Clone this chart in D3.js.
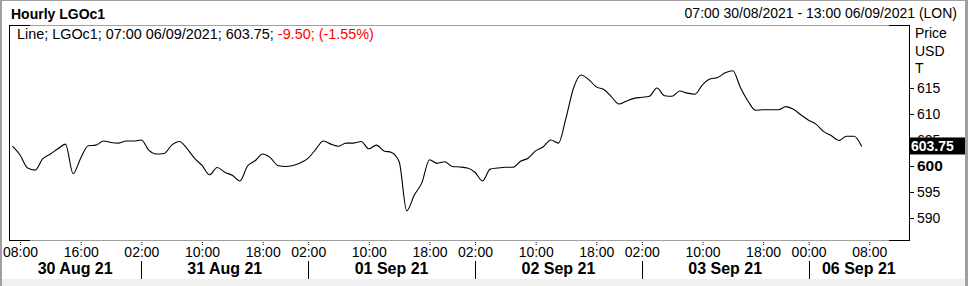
<!DOCTYPE html>
<html>
<head>
<meta charset="utf-8">
<script src="https://cdn.jsdelivr.net/npm/d3@7"></script>
<style>
    body { margin: 0; background: #fff; }
    svg { display: block; font-family: Arial, "Liberation Sans", sans-serif; }
    .axis path { display: none; }
    .axis text { fill: #000; }
</style>
</head>
<body>
<div id="chart"></div>
<script>
// Sessões de negociação (hora de Londres)
const dayLabels = ['30 Aug 21', '31 Aug 21', '01 Sep 21', '02 Sep 21', '03 Sep 21', '06 Sep 21'];
const sessionHours = [
    [7, 8, 9, 10, 11, 12, 13, 14, 15, 16, 17, 18, 19, 20, 21, 22],
    [1, 2, 3, 4, 5, 6, 7, 8, 9, 10, 11, 12, 13, 14, 15, 16, 17, 18, 19, 20, 21, 22],
    [1, 2, 3, 4, 5, 6, 7, 8, 9, 10, 11, 12, 13, 14, 15, 16, 17, 18, 19, 20, 21, 22],
    [1, 2, 3, 4, 5, 6, 7, 8, 9, 10, 11, 12, 13, 14, 15, 16, 17, 18, 19, 20, 21, 22],
    [1, 2, 3, 4, 5, 6, 7, 8, 9, 10, 11, 12, 13, 14, 15, 16, 17, 18, 19, 20, 21, 22],
    [23, 0, 1, 2, 3, 4, 5, 6, 7, 8, 9, 10, 11, 12, 13]
];
const tickHours = [[8, 16], [2, 10, 18], [2, 10, 18], [2, 10, 18], [2, 10, 18], [0, 8]];

// Preços horários (USD/T)
const aug30 = [603.8, 602.1, 599.6, 599.2, 601.4, 602.3, 603.3, 604.2, 598.5, 601.5, 603.9, 604.0, 604.8, 604.5, 604.4, 604.8];
const aug31 = [604.8, 605.0, 603.0, 602.3, 602.4, 604.0, 604.7, 603.4, 601.5, 600.1, 598.3, 599.7, 598.8, 598.2, 597.1, 600.0, 601.0, 602.3, 601.6, 600.1, 599.9, 600.1];
const sep01 = [600.6, 601.5, 603.2, 604.8, 604.2, 603.8, 604.4, 604.4, 604.7, 603.3, 604.0, 602.9, 602.6, 600.8, 591.4, 594.4, 596.8, 601.2, 600.5, 600.8, 599.9, 599.8];
const sep02 = [599.6, 598.8, 597.1, 599.4, 599.6, 599.75, 599.75, 600.9, 601.5, 602.9, 603.7, 605.0, 604.4, 609.2, 615.0, 617.5, 616.6, 615.2, 614.7, 613.3, 611.9, 612.5];
const sep03 = [613.0, 613.2, 613.4, 615.0, 613.5, 613.4, 614.4, 614.0, 613.8, 615.6, 616.7, 617.0, 617.9, 618.3, 615.1, 612.5, 610.7, 610.8, 610.8, 610.8, 611.4, 610.9];
const sep06 = [609.8, 608.8, 608.0, 606.6, 605.8, 604.9, 605.7, 605.7, 603.75];
const prices = [aug30, aug31, sep01, sep02, sep03, sep06];

const yTicks = [590, 595, 600, 605, 610, 615];
const lastPrice = 603.75;

const W = 968, H = 286;
const plot = {left: 9, right: 909, top: 25, bottom: 240};

const svg = d3.select('#chart').append('svg')
    .attr('width', W)
    .attr('height', H);

// Moldura
svg.append('rect').attr('x', 0).attr('y', 0).attr('width', W).attr('height', H).attr('fill', '#fff');
svg.append('rect').attr('x', 0).attr('y', 279).attr('width', W).attr('height', 7).attr('fill', '#f0f0f0');
svg.append('rect').attr('x', 0).attr('y', 0).attr('width', 2).attr('height', H).attr('fill', '#a0a0a0');
svg.append('rect').attr('x', 0).attr('y', 0).attr('width', W).attr('height', 1).attr('fill', '#a0a0a0');
svg.append('rect').attr('x', 965).attr('y', 0).attr('width', 3).attr('height', H).attr('fill', '#a0a0a0');

// Slots horários
const slotKey = (d, h) => `${d}|${h}`;
const slots = [];
sessionHours.forEach((hours, d) => hours.forEach(h => slots.push(slotKey(d, h))));

const data = [];
prices.forEach((vals, d) => vals.forEach((v, i) => data.push({key: slotKey(d, sessionHours[d][i]), value: v})));

// Escalas
const x = d3.scalePoint()
    .domain(slots)
    .range([12.45, 907.2]);

const y = d3.scaleLinear()
    .domain([585.77, 627.1])
    .range([plot.bottom, plot.top]);

// Cabeçalho
svg.append('text')
    .attr('x', 11).attr('y', 19)
    .style('font-size', '14px').style('font-weight', 'bold')
    .text('Hourly LGOc1');

svg.append('text')
    .attr('x', 957).attr('y', 18)
    .style('font-size', '14px')
    .style('text-anchor', 'end')
    .text('07:00 30/08/2021 - 13:00 06/09/2021 (LON)');

// Bordas da área do gráfico
const frame = svg.append('g');
frame.append('line').attr('x1', plot.left).attr('x2', plot.right).attr('y1', plot.top + 0.5).attr('y2', plot.top + 0.5).attr('stroke', '#a0a0a0');
frame.append('line').attr('x1', plot.left).attr('x2', plot.right).attr('y1', plot.bottom + 0.5).attr('y2', plot.bottom + 0.5).attr('stroke', '#a0a0a0');
[plot.top, plot.bottom].forEach(yy => {
    frame.append('line').attr('x1', plot.left).attr('x2', plot.left + 21).attr('y1', yy + 0.5).attr('y2', yy + 0.5).attr('stroke', '#000');
    frame.append('line').attr('x1', plot.right - 20).attr('x2', plot.right).attr('y1', yy + 0.5).attr('y2', yy + 0.5).attr('stroke', '#000');
});
frame.append('line').attr('x1', plot.left + 0.5).attr('x2', plot.left + 0.5).attr('y1', plot.top).attr('y2', plot.bottom + 1).attr('stroke', '#000');
frame.append('line').attr('x1', plot.right + 0.5).attr('x2', plot.right + 0.5).attr('y1', plot.top).attr('y2', plot.bottom + 1).attr('stroke', '#000');

// Linha de preços
svg.append('clipPath').attr('id', 'clip')
    .append('rect')
    .attr('x', plot.left + 1).attr('y', plot.top + 1)
    .attr('width', plot.right - plot.left - 1).attr('height', plot.bottom - plot.top - 1);

const line = d3.line()
    .x(d => x(d.key))
    .y(d => y(d.value))
    .curve(d3.curveMonotoneX);

svg.append('path')
    .datum(data)
    .attr('clip-path', 'url(#clip)')
    .attr('fill', 'none')
    .attr('stroke', '#000')
    .attr('stroke-width', 1.1)
    .attr('d', line);

// Legenda
const legend = svg.append('text')
    .attr('x', 17).attr('y', 39)
    .style('font-size', '14.4px');
legend.append('tspan').text('Line; LGOc1; 07:00 06/09/2021; 603.75; ');
legend.append('tspan').attr('fill', '#f00').text('-9.50; (-1.55%)');

// Eixo Y (direita)
const yAxis = svg.append('g')
    .attr('class', 'axis')
    .attr('transform', `translate(${plot.right + 1},0)`)
    .call(d3.axisRight(y).tickValues(yTicks).tickSize(4).tickPadding(3).tickFormat(d3.format('d')));
yAxis.selectAll('.tick line').attr('stroke', '#000');
yAxis.selectAll('.tick text')
    .style('font-size', d => d === 600 ? '15.5px' : '14px')
    .style('font-weight', d => d === 600 ? 'bold' : 'normal');

['Price', 'USD', 'T'].forEach((t, i) => {
    svg.append('text')
        .attr('x', 915).attr('y', 38 + i * 17.5)
        .style('font-size', '14px')
        .text(t);
});

// Etiqueta do último preço
svg.append('rect')
    .attr('x', plot.right).attr('y', y(lastPrice) - 9)
    .attr('width', 56).attr('height', 17)
    .attr('fill', '#000');
svg.append('text')
    .attr('x', 911).attr('y', y(lastPrice) + 5)
    .attr('fill', '#fff')
    .style('font-size', '14px').style('font-weight', 'bold')
    .text(d3.format('.2f')(lastPrice));

// Eixo X: horas
const tickKeys = [];
tickHours.forEach((hours, d) => hours.forEach(h => tickKeys.push(slotKey(d, h))));

const xAxis = svg.append('g')
    .attr('class', 'axis')
    .attr('transform', `translate(0,${plot.bottom + 2})`)
    .call(d3.axisBottom(x).tickValues(tickKeys).tickSize(4).tickPadding(1)
        .tickFormat(k => String(k.split('|')[1]).padStart(2, '0') + ':00'));
xAxis.selectAll('.tick line').attr('stroke', '#000').attr('stroke-dasharray', '1,1');
xAxis.selectAll('.tick text').style('font-size', '14px');

// Eixo X: dias
const sepX = tickHours.map((hours, d) => x(slotKey(d, hours[0])));
const bounds = [plot.left, ...sepX.slice(1), plot.right];

sepX.slice(1).forEach(sx => {
    svg.append('line')
        .attr('x1', Math.round(sx) + 0.5).attr('x2', Math.round(sx) + 0.5)
        .attr('y1', 261).attr('y2', 279)
        .attr('stroke', '#000');
});

dayLabels.forEach((label, d) => {
    svg.append('text')
        .attr('x', (bounds[d] + bounds[d + 1]) / 2)
        .attr('y', 274)
        .style('text-anchor', 'middle')
        .style('font-size', '16px').style('font-weight', 'bold')
        .text(label);
});
</script>
</body>
</html>
